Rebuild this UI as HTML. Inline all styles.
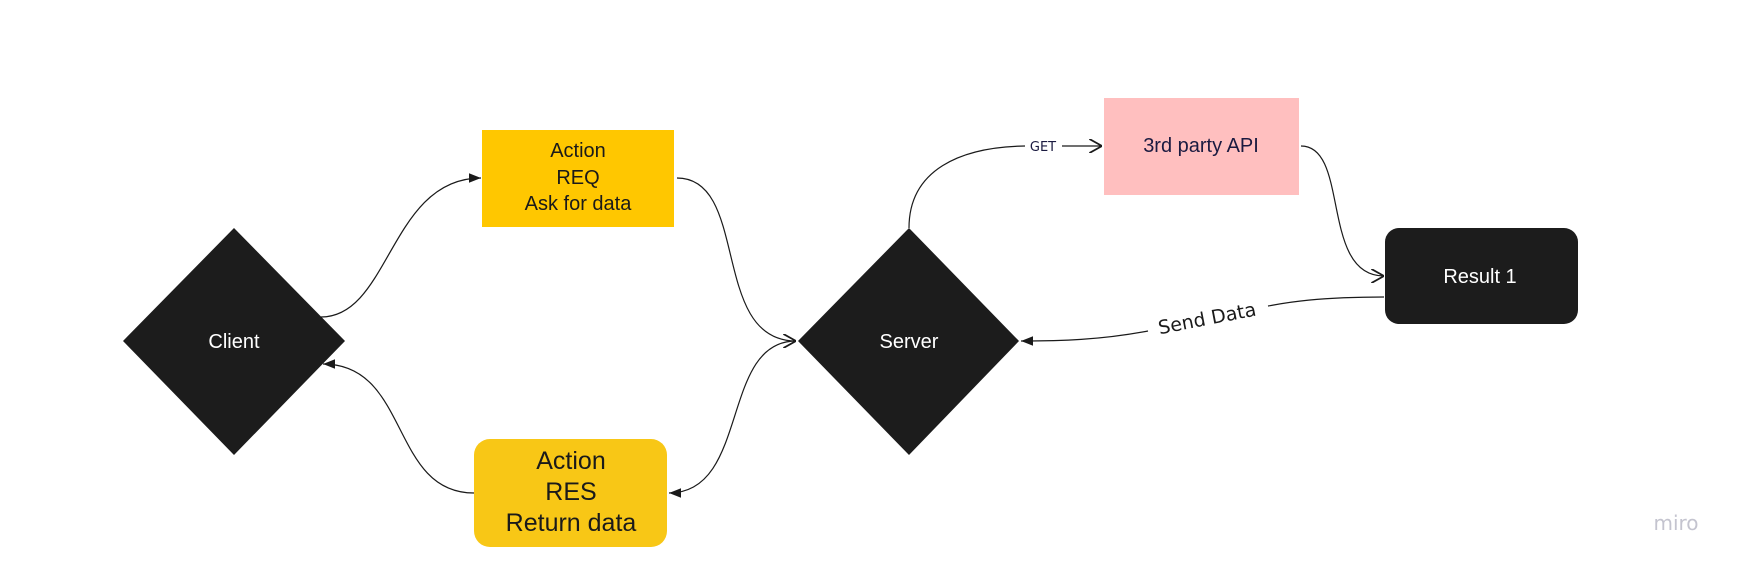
<!DOCTYPE html>
<html><head><meta charset="utf-8"><style>
html,body{margin:0;padding:0;background:#fff;}
svg{display:block;}
.a{font-family:"Liberation Sans",Arial,sans-serif;}
.d{font-family:"DejaVu Sans",sans-serif;}
</style></head><body>
<svg width="1744" height="573" viewBox="0 0 1744 573" xmlns="http://www.w3.org/2000/svg">
<defs>
<marker id="f" viewBox="0 0 10 10" refX="10" refY="5" markerWidth="12" markerHeight="12" markerUnits="userSpaceOnUse" orient="auto"><path d="M0 1 L10 5 L0 9 z" fill="#1a1a1a"/></marker>
<marker id="o" viewBox="0 0 10 10" refX="10" refY="5" markerWidth="14" markerHeight="14" markerUnits="userSpaceOnUse" orient="auto"><path d="M1 0 L10 5 L1 10" fill="none" stroke="#1a1a1a" stroke-width="1.3"/></marker>
</defs>
<rect width="1744" height="573" fill="#fff"/>
<polygon points="234,228 345,341 234,455 123,341" fill="#1c1c1c"/>
<polygon points="909,228 1019,341 909,455 798,341" fill="#1c1c1c"/>
<rect x="482" y="130" width="192" height="97" fill="#FFC700"/>
<rect x="474" y="439" width="193" height="108" rx="16" fill="#F8C716"/>
<rect x="1104" y="98" width="195" height="97" fill="#FFBFBF"/>
<rect x="1385" y="228" width="193" height="96" rx="14" fill="#1c1c1c"/>
<g fill="none" stroke="#1a1a1a" stroke-width="1.2">
<path d="M321 317 C 390 317, 390 178, 481 178" marker-end="url(#f)"/>
<path d="M677 178 C 750 178, 710 341, 796 341" marker-end="url(#o)"/>
<path d="M796 341 C 720 341, 750 493, 669 493" marker-end="url(#f)"/>
<path d="M474 493 C 390 493, 410 364, 323 364" marker-end="url(#f)"/>
<path d="M909 228 C 909 170, 960 147, 1025 146"/>
<path d="M1062 146 L1102 146" marker-end="url(#o)"/>
<path d="M1301 146 C 1350 146, 1320 276, 1384 276" marker-end="url(#o)"/>
<path d="M1384 297 C 1310 297, 1280 304, 1268 306"/>
<path d="M1148 331 C 1100 340, 1060 341, 1021 341" marker-end="url(#f)"/>
</g>
<g class="a" text-anchor="middle">
<text x="234" y="348" font-size="20" fill="#fff">Client</text>
<text x="909" y="348" font-size="20" fill="#fff">Server</text>
<text x="1480" y="283" font-size="20" fill="#fff">Result 1</text>
<text x="578" y="157" font-size="20" fill="#1a1a1a">Action</text>
<text x="578" y="184" font-size="20" fill="#1a1a1a">REQ</text>
<text x="578" y="210" font-size="20" fill="#1a1a1a">Ask for data</text>
<text x="571" y="469" font-size="25" fill="#1a1a1a">Action</text>
<text x="571" y="500" font-size="25" fill="#1a1a1a">RES</text>
<text x="571" y="531" font-size="25" fill="#1a1a1a">Return data</text>
<text x="1201" y="152" font-size="20" fill="#1a1a40">3rd party API</text>
</g>
<text x="1043" y="151" class="d" font-size="13" fill="#1a1a40" text-anchor="middle">GET</text>
<text x="1207" y="325" class="d" font-size="19" fill="#1a1a1a" text-anchor="middle" transform="rotate(-11 1207 318)">Send Data</text>
<text x="1676" y="530" class="d" font-size="20" fill="#c4c4cf" text-anchor="middle">miro</text>
</svg>
</body></html>
